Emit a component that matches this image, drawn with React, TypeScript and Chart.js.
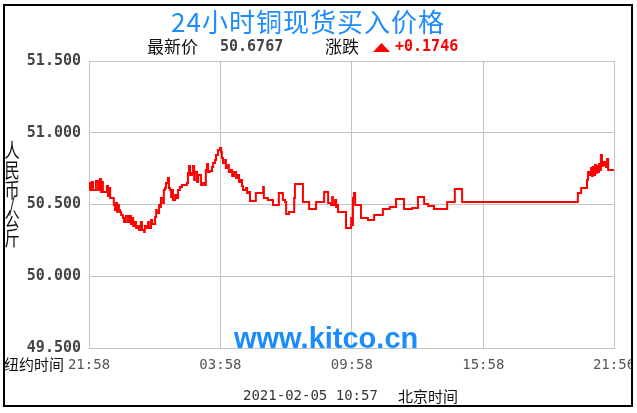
import React, { useEffect, useRef } from "react";
import { Chart, registerables } from "chart.js";

Chart.register(...registerables);

// minutes after 21:58 (New York time)
const minutes = [
  0, 3, 8, 11, 19, 25, 30, 33, 36, 38,
  49, 52, 55, 58, 68, 71, 74, 77, 79, 82,
  85, 88, 93, 96, 101, 107, 110, 115, 118, 121,
  126, 129, 134, 137, 142, 145, 151, 153, 159, 162,
  164, 170, 173, 181, 184, 186, 192, 194, 197, 203,
  205, 208, 211, 216, 219, 222, 225, 227, 230, 236,
  241, 244, 249, 255, 268, 271, 274, 277, 282, 285,
  288, 290, 296, 299, 307, 312, 318, 320, 323, 326,
  331, 337, 340, 345, 348, 353, 359, 362, 364, 367,
  373, 375, 381, 383, 389, 392, 397, 403, 408, 411,
  416, 419, 422, 430, 433, 438, 441, 457, 477, 479,
  490, 504, 520, 531, 537, 540, 548, 562, 564, 586,
  603, 622, 644, 655, 663, 666, 668, 674, 677, 679,
  682, 704, 718, 720, 723, 726, 729, 745, 764, 781,
  805, 824, 841, 863, 885, 901, 918, 929, 945, 981,
  1002, 1022, 1339, 1348, 1364, 1367, 1372, 1375, 1378, 1380,
  1383, 1386, 1389, 1391, 1394, 1397, 1400, 1402, 1405, 1408,
  1413, 1416, 1419, 1422, 1438,
];

// price, RMB per kg (thousands)
const prices = [
  50.65, 50.601, 50.657, 50.601, 50.664, 50.601, 50.678, 50.587, 50.657, 50.587,
  50.629, 50.559, 50.615, 50.545, 50.497, 50.462, 50.51, 50.448, 50.497, 50.462,
  50.448, 50.427, 50.406, 50.378, 50.42, 50.378, 50.42, 50.364, 50.406, 50.35,
  50.378, 50.336, 50.35, 50.322, 50.378, 50.322, 50.308, 50.35, 50.336, 50.378,
  50.336, 50.392, 50.364, 50.413, 50.462, 50.441, 50.497, 50.483, 50.545, 50.51,
  50.601, 50.615, 50.65, 50.685, 50.615, 50.601, 50.552, 50.601, 50.531, 50.566,
  50.545, 50.601, 50.622, 50.636, 50.65, 50.72, 50.768, 50.706, 50.72, 50.768,
  50.671, 50.726, 50.657, 50.706, 50.636, 50.65, 50.636, 50.74, 50.782, 50.726,
  50.733, 50.761, 50.789, 50.81, 50.845, 50.88, 50.894, 50.866, 50.824, 50.789,
  50.81, 50.754, 50.775, 50.726, 50.74, 50.699, 50.726, 50.685, 50.706, 50.657,
  50.671, 50.629, 50.601, 50.615, 50.58, 50.587, 50.524, 50.58, 50.622, 50.545,
  50.531, 50.497, 50.58, 50.531, 50.517, 50.434, 50.448, 50.545, 50.643, 50.517,
  50.469, 50.517, 50.587, 50.51, 50.497, 50.552, 50.497, 50.531, 50.483, 50.497,
  50.448, 50.336, 50.406, 50.357, 50.545, 50.58, 50.497, 50.406, 50.392, 50.427,
  50.469, 50.483, 50.538, 50.469, 50.476, 50.552, 50.503, 50.49, 50.469, 50.517,
  50.608, 50.517, 50.58, 50.615, 50.671, 50.726, 50.706, 50.754, 50.699, 50.761,
  50.706, 50.775, 50.72, 50.768, 50.726, 50.782, 50.74, 50.845, 50.768, 50.796,
  50.775, 50.761, 50.817, 50.74, 50.74,
];

const xTickValues = [0, 360, 720, 1080, 1438];
const xTickLabels = ["21:58", "03:58", "09:58", "15:58", "21:56"];
const yMin = 49.5;
const yMax = 51.5;
const yStep = 0.5;

const titleText = "24小时铜现货买入价格";
const latestLabel = "最新价";
const latestValue = "50.6767";
const changeLabel = "涨跌";
const changeValue = "+0.1746";
const yAxisTitle = ["人", "民", "币", "/", "公", "斤"];
const nyTimeLabel = "纽约时间";
const dateText = "2021-02-05 10:57";
const bjTimeLabel = "北京时间";
const watermark = "www.kitco.cn";

const CJK = '"Noto Sans CJK SC", sans-serif';
const MONO = '"DejaVu Sans Mono", monospace';

const overlay = {
  id: "overlay",
  beforeDraw(chart: any) {
    const ctx = chart.ctx;
    ctx.save();
    ctx.fillStyle = "#ffffff";
    ctx.fillRect(0, 0, chart.width, chart.height);
    ctx.restore();
  },
  afterDraw(chart: any) {
    const ctx = chart.ctx;
    ctx.save();
    // title
    ctx.fillStyle = "#1e8cff";
    ctx.font = `26px ${CJK}`;
    ctx.textAlign = "center";
    ctx.textBaseline = "middle";
    try { (ctx as any).letterSpacing = "1px"; } catch (e) {}
    ctx.fillText(titleText, 308, 22);
    try { (ctx as any).letterSpacing = "0px"; } catch (e) {}

    // subtitle
    ctx.textAlign = "left";
    ctx.fillStyle = "#111";
    ctx.font = `17px ${CJK}`;
    ctx.fillText(latestLabel, 147, 47);
    ctx.fillText(changeLabel, 325, 47);
    ctx.fillStyle = "#444";
    ctx.font = `bold 15px ${MONO}`;
    ctx.fillText(latestValue, 220, 47);
    ctx.fillStyle = "#ff0000";
    ctx.fillText(changeValue, 395, 47);
    ctx.beginPath();
    ctx.moveTo(373, 52);
    ctx.lineTo(390, 52);
    ctx.lineTo(381.5, 43);
    ctx.closePath();
    ctx.fill();

    // y axis title (stacked)
    ctx.fillStyle = "#111";
    ctx.font = `16px ${CJK}`;
    ctx.textAlign = "center";
    const ys = [150, 170, 190, 204, 219, 238];
    yAxisTitle.forEach((c, i) => {
      ctx.save();
      ctx.translate(12, ys[i]);
      ctx.scale(0.95, 1.25);
      ctx.fillText(c, 0, 0);
      ctx.restore();
    });

    // watermark
    ctx.fillStyle = "#1a8cff";
    ctx.font = `bold 29px "Liberation Sans", Arial, sans-serif`;
    ctx.textAlign = "left";
    ctx.fillText(watermark, 234, 340);

    // bottom labels
    ctx.fillStyle = "#111";
    ctx.font = `15px ${CJK}`;
    ctx.fillText(nyTimeLabel, 4, 364);
    ctx.fillText(bjTimeLabel, 398, 396);
    ctx.fillStyle = "#333";
    ctx.font = `14px ${MONO}`;
    ctx.fillText(dateText, 243, 396);

    // clip right edge & outer border
    ctx.fillStyle = "#ffffff";
    ctx.fillRect(633, 0, 10, chart.height);
    ctx.strokeStyle = "#000";
    ctx.lineWidth = 2;
    ctx.strokeRect(4, 5, 628, 401);
    ctx.restore();
  },
};

export default function App() {
  const ref = useRef<HTMLCanvasElement | null>(null);
  useEffect(() => {
    if (!ref.current) return;
    const chart = new Chart(ref.current, {
      type: "line",
      data: {
        datasets: [
          {
            data: minutes.map((m, i) => ({ x: m, y: prices[i] })),
            borderColor: "#ff0000",
            borderWidth: 2,
            pointRadius: 0,
            stepped: true,
            fill: false,
          },
        ],
      },
      options: {
        responsive: false,
        animation: false,
        layout: { padding: { top: 61, right: 23, left: 0, bottom: 0 } },
        plugins: {
          legend: { display: false },
          tooltip: { enabled: false },
          title: { display: false },
        },
        scales: {
          x: {
            type: "linear",
            min: 0,
            max: 1438,
            afterBuildTicks: (scale: any) => {
              scale.ticks = xTickValues.map((v) => ({ value: v }));
            },
            afterFit: (scale: any) => {
              scale.height = 65;
              scale.paddingLeft = 0;
              scale.paddingRight = 0;
            },
            ticks: {
              autoSkip: false,
              maxRotation: 0,
              padding: 9,
              color: "#555",
              font: { family: "DejaVu Sans Mono", size: 14 },
              callback: (_v: any, i: number) => xTickLabels[i],
            },
            grid: { color: "#c4c4c4", lineWidth: 1, drawTicks: false },
            border: { color: "#c4c4c4" },
          },
          y: {
            min: yMin,
            max: yMax,
            afterFit: (scale: any) => {
              scale.width = 89;
              scale.paddingTop = 0;
              scale.paddingBottom = 0;
            },
            ticks: {
              stepSize: yStep,
              padding: 8,
              color: "#444",
              font: { family: "DejaVu Sans Mono", size: 15, weight: "bold" },
              callback: (v: any) => Number(v).toFixed(3),
            },
            grid: { color: "#c4c4c4", lineWidth: 1, drawTicks: false },
            border: { color: "#c4c4c4" },
          },
        },
      },
      plugins: [overlay],
    });
    return () => chart.destroy();
  }, []);
  return (
    <div style={{ position: "absolute", left: 0, top: 0, width: 637, height: 413, background: "#fff" }}>
      <canvas ref={ref} width={637} height={413} style={{ display: "block", width: 637, height: 413 }} />
    </div>
  );
}
